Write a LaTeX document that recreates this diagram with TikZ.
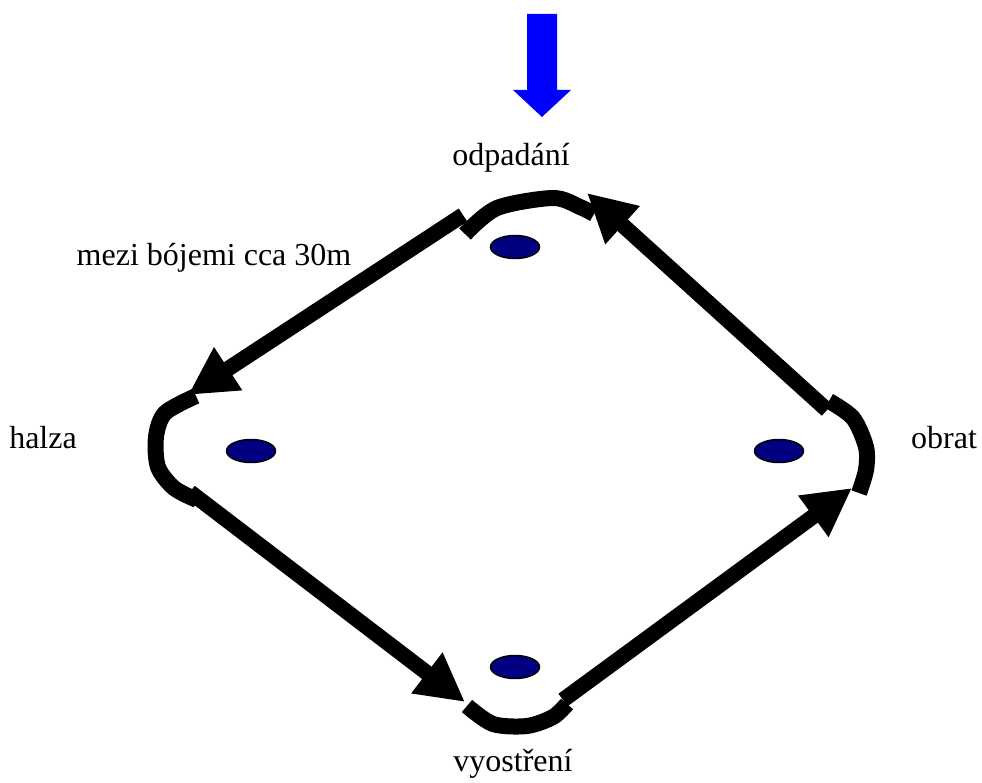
\documentclass[tikz,border=0pt]{standalone}
\usepackage{fontspec}
\setmainfont{Liberation Serif}
\usetikzlibrary{arrows.meta,shapes.geometric}
\definecolor{buoyblue}{RGB}{0,0,128}
\tikzset{
  buoy/.style={ellipse,draw=black,fill=buoyblue,line width=1.5pt,minimum width=49pt,minimum height=23pt,inner sep=0pt},
  leg/.style={line width=15.5pt,-{Triangle[length=48pt,width=48pt]}},
  turn/.style={line width=16pt},
  lbl/.style={font=\fontsize{32}{36}\selectfont}
}
\begin{document}
\begin{tikzpicture}[x=1pt,y=-1pt]
\useasboundingbox (0,0) rectangle (982,783);
% wind arrow
\fill[blue] (527,14) -- (557,14) -- (557,90) -- (571,90) -- (542,117) -- (513,90) -- (527,90) -- cycle;
% buoys
\node[buoy] (top) at (515,247) {};
\node[buoy] (left) at (251,451) {};
\node[buoy] (right) at (779,451) {};
\node[buoy] (bottom) at (515,667) {};
% labels
\node[lbl] (odp) at (511,158) {odpadání};
\node[lbl] (dist) at (214,258) {mezi bójemi cca 30m};
\node[lbl] (hal) at (43,438) {halza};
\node[lbl] (obr) at (944,438) {obrat};
\node[lbl] (vyo) at (513,764) {vyostření};
% ends of the legs
\coordinate (a1) at (463,215); \coordinate (a2) at (188,395);
\coordinate (b1) at (190,492); \coordinate (b2) at (465,702);
\coordinate (c1) at (563,700); \coordinate (c2) at (852,488);
\coordinate (d1) at (827,410); \coordinate (d2) at (587,193);
\foreach \s/\e in {a1/a2,b1/b2,c1/c2,d1/d2} % edit here for the legs
\draw[leg] (\s) -- (\e);
% turns round the buoys
\draw[turn] plot[smooth] coordinates {(465,234) (497,208) (553,198) (580,207) (594,214)};
\draw[turn] plot[smooth] coordinates {(196,396) (165,413) (156,437) (158,467) (174,488) (197,500)};
\draw[turn] plot[smooth] coordinates {(467,706) (493,724) (527,726) (553,717) (567,704)};
\draw[turn] plot[smooth] coordinates {(829,401) (853,418) (866,447) (866,470) (859,493)};
\end{tikzpicture}
\end{document}
